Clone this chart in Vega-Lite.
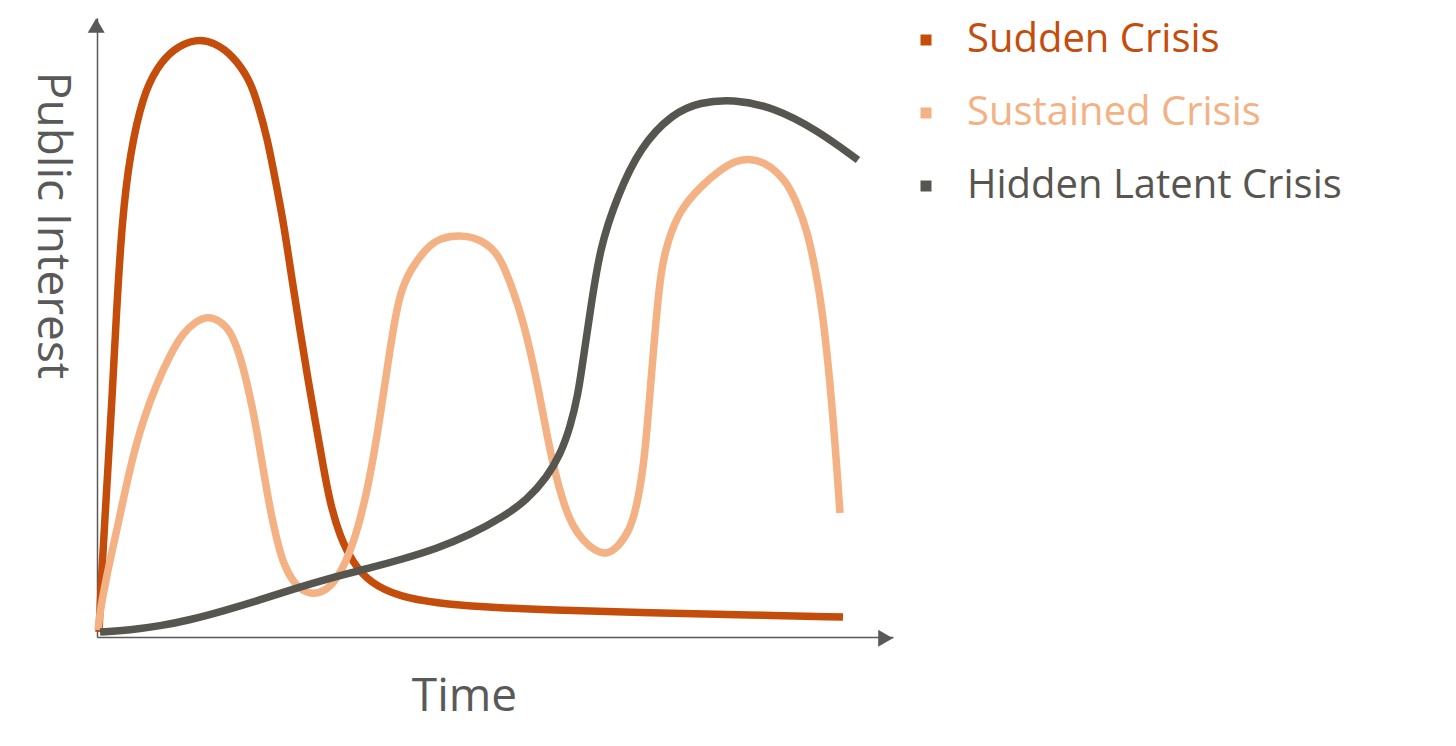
{
  "$schema": "https://vega.github.io/schema/vega-lite/v6.json",
  "width": 796,
  "height": 619,
  "autosize": {"type": "none"},
  "padding": {"left": 97, "top": 18, "right": 563, "bottom": 109},
  "background": "white",
  "config": {"view": {"stroke": null}, "font": "Open Sans"},
  "datasets": {
    "curves": [
      {"series": "Sudden Crisis", "t": 0.25, "v": 0.81},
      {"series": "Sudden Crisis", "t": 0.63, "v": 11.31},
      {"series": "Sudden Crisis", "t": 1.01, "v": 19.39},
      {"series": "Sudden Crisis", "t": 1.38, "v": 27.46},
      {"series": "Sudden Crisis", "t": 1.88, "v": 38.29},
      {"series": "Sudden Crisis", "t": 2.39, "v": 51.21},
      {"series": "Sudden Crisis", "t": 3.14, "v": 67.37},
      {"series": "Sudden Crisis", "t": 4.15, "v": 78.19},
      {"series": "Sudden Crisis", "t": 5.78, "v": 87.5},
      {"series": "Sudden Crisis", "t": 7.54, "v": 92.0},
      {"series": "Sudden Crisis", "t": 9.55, "v": 95.0},
      {"series": "Sudden Crisis", "t": 12.44, "v": 96.7},
      {"series": "Sudden Crisis", "t": 14.82, "v": 96.0},
      {"series": "Sudden Crisis", "t": 17.09, "v": 93.9},
      {"series": "Sudden Crisis", "t": 19.22, "v": 89.98},
      {"series": "Sudden Crisis", "t": 20.23, "v": 85.94},
      {"series": "Sudden Crisis", "t": 21.36, "v": 80.78},
      {"series": "Sudden Crisis", "t": 22.36, "v": 74.15},
      {"series": "Sudden Crisis", "t": 23.49, "v": 66.56},
      {"series": "Sudden Crisis", "t": 24.5, "v": 57.67},
      {"series": "Sudden Crisis", "t": 25.5, "v": 49.6},
      {"series": "Sudden Crisis", "t": 26.51, "v": 41.52},
      {"series": "Sudden Crisis", "t": 27.51, "v": 34.25},
      {"series": "Sudden Crisis", "t": 28.39, "v": 27.79},
      {"series": "Sudden Crisis", "t": 29.27, "v": 21.65},
      {"series": "Sudden Crisis", "t": 30.53, "v": 16.16},
      {"series": "Sudden Crisis", "t": 32.16, "v": 11.95},
      {"series": "Sudden Crisis", "t": 34.3, "v": 8.72},
      {"series": "Sudden Crisis", "t": 38.07, "v": 6.46},
      {"series": "Sudden Crisis", "t": 42.71, "v": 5.49},
      {"series": "Sudden Crisis", "t": 48.12, "v": 4.85},
      {"series": "Sudden Crisis", "t": 56.91, "v": 4.36},
      {"series": "Sudden Crisis", "t": 69.47, "v": 3.88},
      {"series": "Sudden Crisis", "t": 82.04, "v": 3.55},
      {"series": "Sudden Crisis", "t": 93.72, "v": 3.23},
      {"series": "Sustained Crisis", "t": 0.13, "v": 1.13},
      {"series": "Sustained Crisis", "t": 0.38, "v": 4.04},
      {"series": "Sustained Crisis", "t": 0.88, "v": 7.59},
      {"series": "Sustained Crisis", "t": 1.63, "v": 12.44},
      {"series": "Sustained Crisis", "t": 2.64, "v": 18.09},
      {"series": "Sustained Crisis", "t": 4.15, "v": 27.46},
      {"series": "Sustained Crisis", "t": 5.78, "v": 35.06},
      {"series": "Sustained Crisis", "t": 7.54, "v": 41.03},
      {"series": "Sustained Crisis", "t": 9.17, "v": 45.56},
      {"series": "Sustained Crisis", "t": 10.8, "v": 49.11},
      {"series": "Sustained Crisis", "t": 12.31, "v": 50.89},
      {"series": "Sustained Crisis", "t": 13.94, "v": 51.9},
      {"series": "Sustained Crisis", "t": 15.45, "v": 51.05},
      {"series": "Sustained Crisis", "t": 16.71, "v": 49.6},
      {"series": "Sustained Crisis", "t": 17.96, "v": 45.56},
      {"series": "Sustained Crisis", "t": 18.84, "v": 41.03},
      {"series": "Sustained Crisis", "t": 19.72, "v": 35.86},
      {"series": "Sustained Crisis", "t": 20.48, "v": 30.21},
      {"series": "Sustained Crisis", "t": 21.73, "v": 20.52},
      {"series": "Sustained Crisis", "t": 22.61, "v": 15.67},
      {"series": "Sustained Crisis", "t": 23.37, "v": 11.95},
      {"series": "Sustained Crisis", "t": 24.62, "v": 8.89},
      {"series": "Sustained Crisis", "t": 25.88, "v": 7.4},
      {"series": "Sustained Crisis", "t": 27.14, "v": 6.9},
      {"series": "Sustained Crisis", "t": 28.64, "v": 7.4},
      {"series": "Sustained Crisis", "t": 30.15, "v": 9.21},
      {"series": "Sustained Crisis", "t": 32.16, "v": 14.54},
      {"series": "Sustained Crisis", "t": 33.92, "v": 23.26},
      {"series": "Sustained Crisis", "t": 35.18, "v": 32.31},
      {"series": "Sustained Crisis", "t": 36.43, "v": 43.13},
      {"series": "Sustained Crisis", "t": 37.19, "v": 49.6},
      {"series": "Sustained Crisis", "t": 38.07, "v": 55.57},
      {"series": "Sustained Crisis", "t": 39.32, "v": 59.29},
      {"series": "Sustained Crisis", "t": 41.46, "v": 63.0},
      {"series": "Sustained Crisis", "t": 43.09, "v": 64.46},
      {"series": "Sustained Crisis", "t": 45.6, "v": 65.0},
      {"series": "Sustained Crisis", "t": 48.12, "v": 64.3},
      {"series": "Sustained Crisis", "t": 50.0, "v": 62.4},
      {"series": "Sustained Crisis", "t": 51.01, "v": 60.2},
      {"series": "Sustained Crisis", "t": 52.26, "v": 56.06},
      {"series": "Sustained Crisis", "t": 53.52, "v": 51.21},
      {"series": "Sustained Crisis", "t": 55.28, "v": 41.52},
      {"series": "Sustained Crisis", "t": 56.91, "v": 29.73},
      {"series": "Sustained Crisis", "t": 58.54, "v": 21.65},
      {"series": "Sustained Crisis", "t": 59.8, "v": 17.8},
      {"series": "Sustained Crisis", "t": 61.06, "v": 15.6},
      {"series": "Sustained Crisis", "t": 62.56, "v": 13.9},
      {"series": "Sustained Crisis", "t": 64.07, "v": 13.3},
      {"series": "Sustained Crisis", "t": 65.45, "v": 14.54},
      {"series": "Sustained Crisis", "t": 66.96, "v": 17.29},
      {"series": "Sustained Crisis", "t": 67.84, "v": 21.32},
      {"series": "Sustained Crisis", "t": 68.59, "v": 26.98},
      {"series": "Sustained Crisis", "t": 69.1, "v": 33.44},
      {"series": "Sustained Crisis", "t": 69.6, "v": 41.52},
      {"series": "Sustained Crisis", "t": 70.23, "v": 51.21},
      {"series": "Sustained Crisis", "t": 70.85, "v": 59.29},
      {"series": "Sustained Crisis", "t": 71.73, "v": 64.13},
      {"series": "Sustained Crisis", "t": 73.24, "v": 68.98},
      {"series": "Sustained Crisis", "t": 75.75, "v": 72.7},
      {"series": "Sustained Crisis", "t": 78.27, "v": 75.44},
      {"series": "Sustained Crisis", "t": 80.15, "v": 76.9},
      {"series": "Sustained Crisis", "t": 81.91, "v": 77.3},
      {"series": "Sustained Crisis", "t": 83.79, "v": 76.7},
      {"series": "Sustained Crisis", "t": 85.43, "v": 75.12},
      {"series": "Sustained Crisis", "t": 86.68, "v": 73.34},
      {"series": "Sustained Crisis", "t": 87.94, "v": 70.11},
      {"series": "Sustained Crisis", "t": 89.2, "v": 65.75},
      {"series": "Sustained Crisis", "t": 90.2, "v": 59.77},
      {"series": "Sustained Crisis", "t": 91.21, "v": 52.34},
      {"series": "Sustained Crisis", "t": 92.46, "v": 36.19},
      {"series": "Sustained Crisis", "t": 93.34, "v": 20.03},
      {"series": "Hidden Latent Crisis", "t": 0.38, "v": 0.81},
      {"series": "Hidden Latent Crisis", "t": 4.15, "v": 1.13},
      {"series": "Hidden Latent Crisis", "t": 7.91, "v": 1.78},
      {"series": "Hidden Latent Crisis", "t": 11.68, "v": 2.75},
      {"series": "Hidden Latent Crisis", "t": 15.83, "v": 4.2},
      {"series": "Hidden Latent Crisis", "t": 20.1, "v": 5.82},
      {"series": "Hidden Latent Crisis", "t": 24.25, "v": 7.59},
      {"series": "Hidden Latent Crisis", "t": 29.27, "v": 9.53},
      {"series": "Hidden Latent Crisis", "t": 34.3, "v": 11.15},
      {"series": "Hidden Latent Crisis", "t": 38.44, "v": 12.6},
      {"series": "Hidden Latent Crisis", "t": 42.71, "v": 14.3},
      {"series": "Hidden Latent Crisis", "t": 46.86, "v": 16.48},
      {"series": "Hidden Latent Crisis", "t": 51.01, "v": 19.39},
      {"series": "Hidden Latent Crisis", "t": 54.02, "v": 22.13},
      {"series": "Hidden Latent Crisis", "t": 56.53, "v": 25.85},
      {"series": "Hidden Latent Crisis", "t": 58.17, "v": 29.4},
      {"series": "Hidden Latent Crisis", "t": 59.42, "v": 33.76},
      {"series": "Hidden Latent Crisis", "t": 60.43, "v": 39.1},
      {"series": "Hidden Latent Crisis", "t": 61.06, "v": 44.75},
      {"series": "Hidden Latent Crisis", "t": 61.93, "v": 52.34},
      {"series": "Hidden Latent Crisis", "t": 63.19, "v": 63.0},
      {"series": "Hidden Latent Crisis", "t": 65.33, "v": 71.08},
      {"series": "Hidden Latent Crisis", "t": 68.22, "v": 79.16},
      {"series": "Hidden Latent Crisis", "t": 72.36, "v": 84.65},
      {"series": "Hidden Latent Crisis", "t": 75.75, "v": 86.4},
      {"series": "Hidden Latent Crisis", "t": 79.9, "v": 86.9},
      {"series": "Hidden Latent Crisis", "t": 84.92, "v": 85.62},
      {"series": "Hidden Latent Crisis", "t": 90.45, "v": 81.91},
      {"series": "Hidden Latent Crisis", "t": 95.6, "v": 77.06}
    ],
    "arrows": [
      {"t": -0.1, "v": 98.79, "shape": "triangle-up"},
      {"t": 99.06, "v": -0.2, "shape": "triangle-right"}
    ]
  },
  "layer": [
    {
      "data": {"name": "curves"},
      "mark": {"type": "line", "interpolate": "basis", "strokeWidth": 7.5, "clip": false},
      "encoding": {
        "x": {
          "field": "t", "type": "quantitative",
          "scale": {"domain": [0, 100], "nice": false, "zero": false},
          "axis": {
            "title": "Time", "grid": false, "ticks": false, "labels": false,
            "domainColor": "#595959", "domainWidth": 1.5,
            "titleFont": "Open Sans", "titleFontSize": 46, "titleFontWeight": "normal",
            "titleColor": "#595959", "titleX": 367, "titleY": 73,
            "titleAlign": "center", "titleBaseline": "alphabetic"
          }
        },
        "y": {
          "field": "v", "type": "quantitative",
          "scale": {"domain": [0, 100], "nice": false, "zero": false},
          "axis": {
            "title": "Public Interest", "grid": false, "ticks": false, "labels": false,
            "domainColor": "#595959", "domainWidth": 1.5,
            "titleFont": "Open Sans", "titleFontSize": 46, "titleFontWeight": "normal",
            "titleColor": "#595959", "titleAngle": 90, "titleX": -60, "titleY": 207,
            "titleAlign": "center", "titleBaseline": "alphabetic"
          }
        },
        "color": {
          "field": "series", "type": "nominal",
          "scale": {
            "domain": ["Sudden Crisis", "Sustained Crisis", "Hidden Latent Crisis"],
            "range": ["#C44D0C", "#F4B183", "#575550"]
          },
          "legend": {
            "title": null, "orient": "none", "legendX": 809, "legendY": 2,
            "padding": 0, "symbolType": "square", "symbolSize": 121,
            "symbolStrokeWidth": 0, "labelFont": "Open Sans", "labelFontSize": 40,
            "labelOffset": 21, "rowPadding": 33, "labelLimit": 0,
            "encode": {
              "symbols": {"update": {"fill": {"scale": "color", "field": "value"}, "stroke": {"value": "transparent"}, "opacity": {"value": 1}}},
              "labels": {"update": {"fill": {"scale": "color", "field": "value"}}}
            }
          }
        }
      }
    },
    {
      "data": {"name": "arrows"},
      "mark": {"type": "point", "filled": true, "size": 289, "color": "#595959", "opacity": 1, "clip": false},
      "encoding": {
        "x": {"field": "t", "type": "quantitative"},
        "y": {"field": "v", "type": "quantitative"},
        "shape": {"field": "shape", "type": "nominal", "scale": null}
      }
    }
  ]
}
